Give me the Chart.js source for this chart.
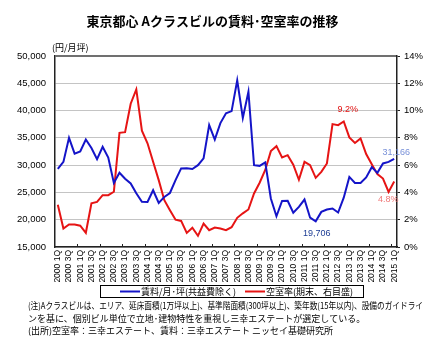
<!DOCTYPE html>
<html lang="ja">
<head>
<meta charset="utf-8">
<script src="https://cdn.jsdelivr.net/npm/chart.js@4.4.1/dist/chart.umd.min.js"></script>
<style>
  html, body { margin: 0; padding: 0; background: #fff; }
  #wrap { position: relative; width: 442px; height: 346px; }
</style>
</head>
<body>
<div id="wrap"><canvas id="chart" width="442" height="346"></canvas></div>
<script>
// 四半期（2000 1Q〜2015 1Q）
const quarters = [
  "2000 1Q","2000 2Q","2000 3Q","2000 4Q","2001 1Q","2001 2Q","2001 3Q","2001 4Q",
  "2002 1Q","2002 2Q","2002 3Q","2002 4Q","2003 1Q","2003 2Q","2003 3Q","2003 4Q",
  "2004 1Q","2004 2Q","2004 3Q","2004 4Q","2005 1Q","2005 2Q","2005 3Q","2005 4Q",
  "2006 1Q","2006 2Q","2006 3Q","2006 4Q","2007 1Q","2007 2Q","2007 3Q","2007 4Q",
  "2008 1Q","2008 2Q","2008 3Q","2008 4Q","2009 1Q","2009 2Q","2009 3Q","2009 4Q",
  "2010 1Q","2010 2Q","2010 3Q","2010 4Q","2011 1Q","2011 2Q","2011 3Q","2011 4Q",
  "2012 1Q","2012 2Q","2012 3Q","2012 4Q","2013 1Q","2013 2Q","2013 3Q","2013 4Q",
  "2014 1Q","2014 2Q","2014 3Q","2014 4Q","2015 1Q"
];

// 賃料（円/月坪、共益費除く）
const rent = [
  29300, 30600, 35000, 32100, 32500, 34700, 33150, 31100,
  33350, 31400, 26750, 28600, 27500, 26640, 24860, 23300,
  23250, 25400, 23080, 24180, 24900, 27250, 29400, 29450,
  29300, 30000, 31230, 37340, 34700, 37700, 39500, 39900,
  45540, 38660, 43450, 30000, 29870, 30500, 23900, 20640,
  23430, 23450, 21280, 22350, 23700, 20370, 19706, 21430,
  21870, 22050, 21320, 24030, 27850, 26750, 26750, 27760,
  29630, 28590, 30310, 30590, 31166
];

// 空室率（%、期末）
const vacancy = [
  3.1, 1.35, 1.65, 1.65, 1.56, 1.04, 3.2, 3.3,
  3.8, 3.8, 4.05, 8.37, 8.42, 10.5, 11.55, 8.53,
  7.6, 6.25, 4.9, 3.43, 2.7, 2.0, 1.91, 1.03,
  1.41, 0.82, 1.72, 1.23, 1.42, 1.35, 1.23, 1.45,
  2.14, 2.47, 2.75, 3.92, 4.71, 5.65, 7.03, 7.39,
  6.56, 6.73, 6.03, 4.93, 6.24, 6.0, 5.07, 5.51,
  6.12, 9.01, 8.93, 9.2, 8.03, 7.63, 7.96, 6.81,
  6.07, 5.34, 5.02, 4.04, 4.8
];

// 目盛
const rentTicks = { min: 15000, max: 50000, step: 5000 };
const vacancyTicks = { min: 0, max: 14, step: 2 };

// 値ラベルを付ける点
const rentLabelIdx = [46, 60];
const vacancyLabelIdx = [51, 60];

const seriesNames = ["賃料/月･坪(共益費除く)", "空室率(期末、右目盛)"];
const notes = [
  "(注)Aクラスビルは、エリア、延床面積(1万坪以上)、基準階面積(300坪以上)、築年数(15年以内)、設備のガイドライ",
  "ンを基に、個別ビル単位で立地･建物特性を重視し三幸エステートが選定している。",
  "(出所)空室率：三幸エステート、賃料：三幸エステート ニッセイ基礎研究所"
];

const JP = '"Noto Sans CJK JP", sans-serif';
const NUM = '"Liberation Sans", Arial, sans-serif';
const BLUE = "#1414c8";
const RED = "#e61414";

const fmtNum = v => Number(v).toLocaleString("en-US");

const extras = {
  id: "extras",
  afterDraw(chart) {
    const ctx = chart.ctx;
    const area = chart.chartArea;
    const xs = chart.scales.x;
    ctx.save();

    // タイトル
    ctx.fillStyle = "#000";
    ctx.font = "bold 13px " + JP;
    ctx.textAlign = "center";
    ctx.textBaseline = "middle";
    ctx.fillText("東京都心 Aクラスビルの賃料･空室率の推移", 212.5, 21.5);

    // 単位
    ctx.font = "9px " + JP;
    ctx.textAlign = "left";
    ctx.fillText("(円/月坪)", 52, 47.5);

    // x軸の目盛線（4四半期ごと、内向き）
    ctx.strokeStyle = "#222";
    ctx.lineWidth = 1;
    for (let k = 4; k < quarters.length; k += 4) {
      const px = Math.round((xs.getPixelForValue(k - 1) + xs.getPixelForValue(k)) / 2) + 0.5;
      ctx.beginPath();
      ctx.moveTo(px, area.bottom);
      ctx.lineTo(px, area.bottom - 3);
      ctx.stroke();
    }

    // 値ラベル
    const rMeta = chart.getDatasetMeta(0).data;
    const vMeta = chart.getDatasetMeta(1).data;
    ctx.font = "9px " + NUM;
    ctx.textAlign = "center";
    ctx.textBaseline = "middle";
    let p = rMeta[rentLabelIdx[0]];
    ctx.fillStyle = "#1c3c94";
    ctx.fillText(fmtNum(rent[rentLabelIdx[0]]), p.x + 1, p.y + 12);
    p = rMeta[rentLabelIdx[1]];
    ctx.fillStyle = "#7890d8";
    ctx.fillText(fmtNum(rent[rentLabelIdx[1]]), p.x + 2, p.y - 6);
    p = vMeta[vacancyLabelIdx[0]];
    ctx.fillStyle = "#e01010";
    ctx.fillText(vacancy[vacancyLabelIdx[0]].toFixed(1) + "%", p.x + 4, p.y - 12);
    p = vMeta[vacancyLabelIdx[1]];
    ctx.fillStyle = "#f07878";
    ctx.fillText(vacancy[vacancyLabelIdx[1]].toFixed(1) + "%", p.x - 6, p.y + 18);

    // 凡例
    ctx.fillStyle = "#fff";
    ctx.fillRect(100, 285, 264, 13);
    ctx.strokeStyle = "#000";
    ctx.lineWidth = 1;
    ctx.strokeRect(100.5, 285.5, 263, 12);
    ctx.lineWidth = 2;
    ctx.strokeStyle = BLUE;
    ctx.beginPath(); ctx.moveTo(120, 291.5); ctx.lineTo(140, 291.5); ctx.stroke();
    ctx.strokeStyle = RED;
    ctx.beginPath(); ctx.moveTo(245, 291.5); ctx.lineTo(265, 291.5); ctx.stroke();
    ctx.fillStyle = "#000";
    ctx.font = "9px " + JP;
    ctx.textAlign = "left";
    ctx.fillText(seriesNames[0], 141, 291.5);
    ctx.fillText(seriesNames[1], 266, 291.5);

    // 注記
    ctx.fillText(notes[0], 28, 306, 395);
    ctx.fillText(notes[1], 28, 318.5);
    ctx.fillText(notes[2], 28, 330.5);

    ctx.restore();
  }
};

new Chart(document.getElementById("chart"), {
  type: "line",
  data: {
    labels: quarters,
    datasets: [
      {
        label: seriesNames[0],
        data: rent,
        yAxisID: "y",
        borderColor: BLUE,
        borderWidth: 2,
        pointRadius: 0,
        tension: 0,
        fill: false
      },
      {
        label: seriesNames[1],
        data: vacancy,
        yAxisID: "y2",
        borderColor: RED,
        borderWidth: 2,
        pointRadius: 0,
        tension: 0,
        fill: false
      }
    ]
  },
  options: {
    responsive: false,
    animation: false,
    devicePixelRatio: 1,
    layout: { padding: { top: 56, left: 0, right: 0, bottom: 0 } },
    plugins: {
      legend: { display: false },
      title: { display: false },
      tooltip: { enabled: false }
    },
    scales: {
      x: {
        type: "category",
        offset: true,
        grid: { display: false, drawTicks: false, tickLength: 0 },
        border: { color: "#222", width: 1.5 },
        ticks: {
          autoSkip: false,
          minRotation: 90,
          maxRotation: 90,
          padding: 3,
          color: "#000",
          font: { family: NUM, size: 8.5 },
          callback: (v, i) => (i % 2 === 0 ? quarters[i] : "")
        },
        afterFit: s => { s.height = 99; }
      },
      y: {
        position: "left",
        min: rentTicks.min,
        max: rentTicks.max,
        ticks: {
          stepSize: rentTicks.step,
          padding: 9,
          color: "#000",
          font: { family: NUM, size: 9.5 },
          callback: v => fmtNum(v)
        },
        grid: {
          drawTicks: false,
          color: c => (c.tick && c.tick.value === rentTicks.max ? "#707070" : "#c4c4c4"),
          lineWidth: c => (c.tick && c.tick.value === rentTicks.max ? 2 : 1)
        },
        border: { color: "#222", width: 1.5 },
        afterFit: s => { s.width = 55; }
      },
      y2: {
        position: "right",
        min: vacancyTicks.min,
        max: vacancyTicks.max,
        ticks: {
          stepSize: vacancyTicks.step,
          padding: 4,
          color: "#000",
          font: { family: NUM, size: 9.5 },
          callback: v => v + "%"
        },
        grid: {
          drawOnChartArea: false,
          drawTicks: true,
          tickLength: 3,
          color: "#222"
        },
        border: { color: "#222", width: 1.5 },
        afterFit: s => { s.width = 45; }
      }
    }
  },
  plugins: [extras]
});
</script>
</body>
</html>
